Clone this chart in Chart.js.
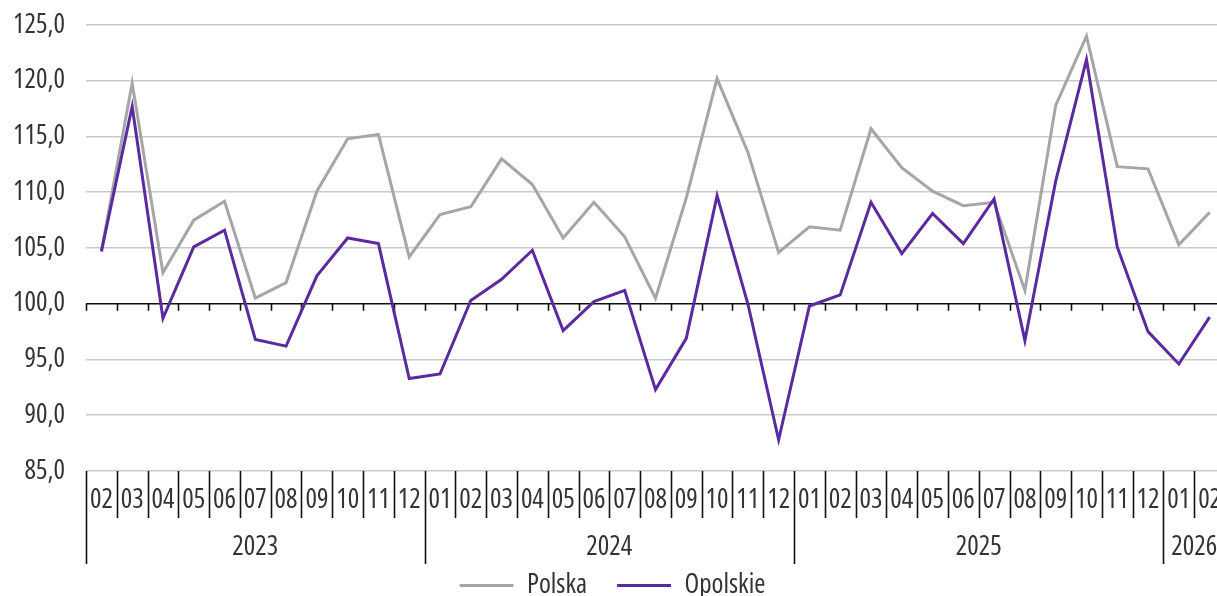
<!DOCTYPE html>
<html><head><meta charset="utf-8">
<script src="https://cdn.jsdelivr.net/npm/chart.js@4/dist/chart.umd.min.js"></script>
<style>
html,body{margin:0;padding:0;overflow:hidden;background:#fff}
canvas{display:block}
</style>
</head><body>
<canvas id="c" width="1225" height="596"></canvas>
<script>
const months = ['02','03','04','05','06','07','08','09','10','11','12',
  '01','02','03','04','05','06','07','08','09','10','11','12',
  '01','02','03','04','05','06','07','08','09','10','11','12',
  '01','02'];
const yearLabels = ['2023','2024','2025','2026'];
const yearStarts = [0, 11, 23, 35];
const polska = [104.7,119.8,102.8,107.5,109.2,100.5,101.9,110.1,114.8,115.2,104.2,
  108.0,108.7,113.0,110.7,105.9,109.1,106.0,100.5,109.5,120.2,113.6,104.6,
  106.9,106.6,115.7,112.2,110.1,108.8,109.1,101.2,117.8,124.0,112.3,112.1,
  105.3,108.2];
const opolskie = [104.7,117.7,98.7,105.1,106.6,96.8,96.2,102.5,105.9,105.4,93.3,
  93.7,100.3,102.2,104.8,97.6,100.2,101.2,92.3,96.9,109.7,100.0,87.8,
  99.8,100.8,109.1,104.5,108.1,105.4,109.4,96.7,111.0,121.9,105.1,97.5,
  94.6,98.8];
const yMin = 85, yMax = 125, yStep = 5, baseLine = 100;

const FAMILY = '"Open Sans", sans-serif';
const STRETCH = 'condensed';
const TEXT = '#333333';
const FS = 27;

const axisDecor = {
  id: 'axisDecor',
  beforeDatasetsDraw(chart) {
    const {ctx, chartArea, scales: {x, y}} = chart;
    const n = months.length;
    const step = x.getPixelForValue(1) - x.getPixelForValue(0);
    const edge = i => x.getPixelForValue(i) - step / 2;
    const y100 = y.getPixelForValue(baseLine);
    const yb = chartArea.bottom;
    ctx.save();
    ctx.strokeStyle = '#111';
    ctx.lineWidth = 1.6;
    for (let i = 0; i <= n; i++) {
      const px = Math.round(edge(i)) + 0.5;
      ctx.beginPath(); ctx.moveTo(px, y100); ctx.lineTo(px, y100 + 7); ctx.stroke();
      const isYear = yearStarts.includes(i);
      ctx.beginPath(); ctx.moveTo(px, yb); ctx.lineTo(px, yb + (isYear ? 93 : 47)); ctx.stroke();
    }
    ctx.fillStyle = TEXT;
    ctx.font = STRETCH + ' ' + FS + 'px ' + FAMILY;
    ctx.textAlign = 'center';
    ctx.textBaseline = 'middle';
    yearStarts.forEach((s, k) => {
      const e = k + 1 < yearStarts.length ? yearStarts[k + 1] : n;
      ctx.fillText(yearLabels[k], (edge(s) + edge(e)) / 2, yb + 76);
    });
    ctx.restore();
  }
};

new Chart(document.getElementById('c'), {
  type: 'line',
  data: {
    labels: months,
    datasets: [
      {label: 'Polska', data: polska, borderColor: '#a6a6a6', backgroundColor: '#a6a6a6',
       borderWidth: 3, pointRadius: 0, tension: 0, order: 2},
      {label: 'Opolskie', data: opolskie, borderColor: '#5a2a9e', backgroundColor: '#5a2a9e',
       borderWidth: 3, pointRadius: 0, tension: 0, order: 1}
    ]
  },
  options: {
    responsive: false,
    animation: false,
    layout: {padding: {left: 0, right: 0, top: 25, bottom: 0}},
    plugins: {
      tooltip: {enabled: false},
      legend: {
        position: 'bottom',
        maxHeight: 54,
        labels: {
          usePointStyle: true,
          pointStyle: 'line',
          pointStyleWidth: 54,
          padding: 30,
          color: TEXT,
          font: {family: FAMILY, size: FS, weight: STRETCH},
          sort: (a, b) => a.datasetIndex - b.datasetIndex
        }
      }
    },
    scales: {
      x: {
        type: 'category',
        offset: true,
        grid: {display: false, drawTicks: false},
        border: {display: false},
        ticks: {color: TEXT, font: {family: FAMILY, size: FS, weight: STRETCH, lineHeight: '58px'},
                padding: 0, maxRotation: 0, autoSkip: false},
        afterFit: s => { s.height = 71; }
      },
      y: {
        min: yMin, max: yMax,
        border: {display: false},
        grid: {
          drawTicks: false,
          color: c => c.tick && c.tick.value === baseLine ? '#111' : '#c9c9c9',
          lineWidth: 1.6
        },
        ticks: {
          stepSize: yStep, padding: 21, color: TEXT,
          font: {family: FAMILY, size: FS, weight: STRETCH, lineHeight: 0.3},
          callback: v => v.toFixed(1).replace('.', ',')
        },
        afterFit: s => { s.width = 86; }
      }
    }
  },
  plugins: [axisDecor]
});
</script>
</body></html>
